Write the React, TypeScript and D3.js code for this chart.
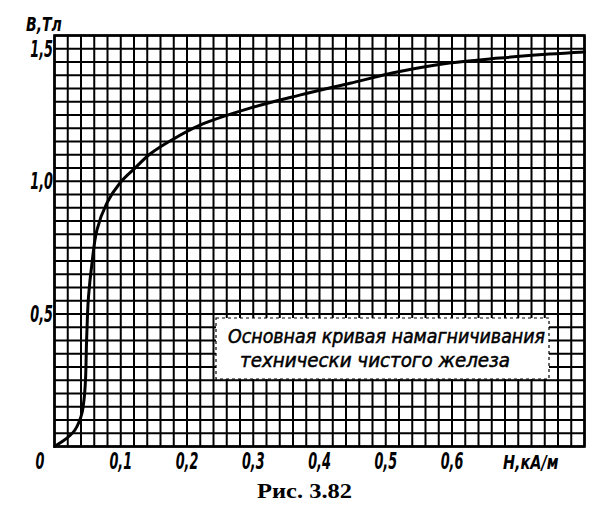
import React from "react";
import * as d3 from "d3";

// Magnetization curve of technically pure iron (H in kA/m, B in T)
const hValues = [0, 0.0128, 0.0234, 0.0309, 0.037, 0.0415, 0.0445, 0.0468, 0.0483, 0.0498, 0.0513, 0.0566, 0.064, 0.079, 0.0988, 0.1215, 0.1442, 0.1743, 0.2196, 0.2951, 0.37, 0.446, 0.521, 0.596, 0.672, 0.747, 0.8];
const bValues = [0, 0.0207, 0.0415, 0.0622, 0.0924, 0.1263, 0.1754, 0.2508, 0.39, 0.496, 0.564, 0.692, 0.816, 0.918, 0.994, 1.05, 1.103, 1.152, 1.212, 1.276, 1.325, 1.37, 1.414, 1.446, 1.465, 1.48, 1.488];

const xTickValues = [0.1, 0.2, 0.3, 0.4, 0.5, 0.6];
const xTickLabels = ["0,1", "0,2", "0,3", "0,4", "0,5", "0,6"];
const yTickValues = [0.5, 1.0, 1.5];
const yTickLabels = ["0,5", "1,0", "1,5"];
const legendLines = ["Основная кривая намагничивания", "технически чистого железа"];
const yAxisTitle = "B,Тл";
const xAxisTitle = "H,кА/м";
const caption = "Рис. 3.82";

const W = 606;
const H = 512;
const left = 54.5, right = 584.5, top = 35.5, bottom = 446.5;

const labelFont = "'DejaVu Sans Condensed', 'DejaVu Sans', sans-serif";

function Label({ x, y, text, anchor = "middle", size = 23, sx = 0.62 }: { x: number; y: number; text: string; anchor?: string; size?: number; sx?: number }) {
  return (
    <g transform={`translate(${x},${y}) scale(${sx},1)`}>
      <text x={0} y={0} textAnchor={anchor as any} fontFamily={labelFont} fontStyle="italic" fontWeight="bold" fontSize={size}>
        {text}
      </text>
    </g>
  );
}

export default function App() {
  const x = d3.scaleLinear().domain([0, 0.8]).range([left, right]);
  const y = d3.scaleLinear().domain([0, 1.55]).range([bottom, top]);

  const xGrid = d3.range(0, 41).map((i) => i * 0.02);
  const yGrid = d3.range(0, 32).map((i) => i * 0.05);

  const pts: [number, number][] = hValues.map((h, i) => [h, bValues[i]]);
  const line = d3
    .line<[number, number]>()
    .x((d) => x(d[0]))
    .y((d) => y(d[1]))
    .curve(d3.curveCatmullRom.alpha(0.5));

  const box = { x0: 216, x1: 549, y0: 318, y1: 379 };

  return (
    <div style={{ position: "absolute", left: 0, top: 0, background: "#fff" }}>
      <svg width={W} height={H} viewBox={`0 0 ${W} ${H}`} style={{ display: "block" }}>
        <rect x={0} y={0} width={W} height={H} fill="#fff" />
        {/* grid */}
        <g stroke="#000" strokeWidth={2}>
          {xGrid.map((v, i) => (
            <line key={"vx" + i} x1={x(v)} x2={x(v)} y1={top} y2={bottom} />
          ))}
          {yGrid.map((v, i) => (
            <line key={"hy" + i} x1={left} x2={right} y1={y(v)} y2={y(v)} />
          ))}
        </g>
        <rect x={left} y={top} width={right - left} height={bottom - top} fill="none" stroke="#000" strokeWidth={2.6} />
        {/* curve */}
        <path d={line(pts) || ""} fill="none" stroke="#000" strokeWidth={3} strokeLinejoin="round" strokeLinecap="round" />
        {/* legend box */}
        <rect x={box.x0} y={box.y0} width={box.x1 - box.x0} height={box.y1 - box.y0} fill="#fff" stroke="#000" strokeWidth={1.2} strokeDasharray="3 3" />
        <text x={228} y={343} fontFamily={labelFont} fontStyle="italic" fontSize={20} stroke="#000" strokeWidth={0.5} textLength={317} lengthAdjust="spacingAndGlyphs">
          {legendLines[0]}
        </text>
        <text x={240} y={367} fontFamily={labelFont} fontStyle="italic" fontSize={20} stroke="#000" strokeWidth={0.5} textLength={270} lengthAdjust="spacingAndGlyphs">
          {legendLines[1]}
        </text>
        {/* y ticks */}
        {yTickValues.map((v, i) => (
          <Label key={"yt" + i} x={53} y={y(v) + 8} text={yTickLabels[i]} anchor="end" />
        ))}
        <Label x={26} y={31} text={yAxisTitle} anchor="start" size={20} sx={0.78} />
        {/* x ticks */}
        <Label x={40} y={469} text="0" />
        {xTickValues.map((v, i) => (
          <Label key={"xt" + i} x={x(v)} y={469} text={xTickLabels[i]} />
        ))}
        <Label x={503} y={469} text={xAxisTitle} anchor="start" size={20} sx={0.8} />
        <text x={257} y={498} fontFamily="'Liberation Serif', serif" fontWeight="bold" fontSize={20} textLength={95} lengthAdjust="spacingAndGlyphs">
          {caption}
        </text>
      </svg>
    </div>
  );
}
